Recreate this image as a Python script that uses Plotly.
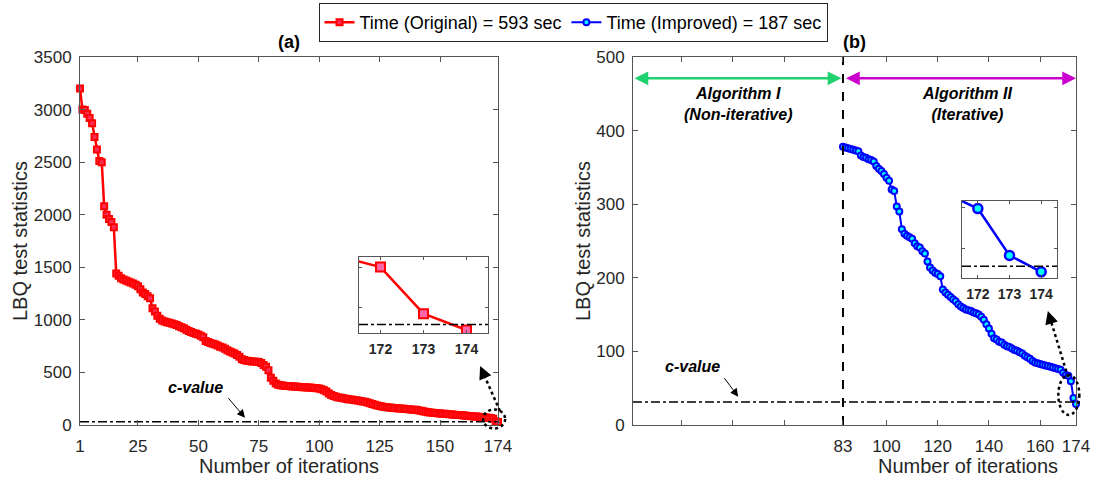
import plotly.graph_objects as go

# ---------------- data ----------------
iters_a = list(range(1, 175))
lbq_a = [3200, 3000, 2995, 2960, 2920, 2870, 2740, 2620, 2510, 2500,
         2080, 2000, 1960, 1930, 1880, 1440, 1420, 1395, 1385, 1375,
         1365, 1355, 1345, 1335, 1320, 1290, 1260, 1245, 1225, 1205,
         1110, 1080, 1040, 1010, 995, 985, 978, 972, 965, 958,
         950, 940, 930, 920, 905, 895, 885, 875, 868, 860,
         850, 835, 800, 790, 780, 772, 765, 755, 745, 738,
         725, 712, 700, 690, 680, 665, 650, 625, 618, 612,
         608, 605, 603, 601, 598, 590, 570, 555, 520, 450,
         420, 395, 383, 378, 375, 372, 370, 368, 366, 365,
         364, 362, 360, 358, 357, 356, 354, 352, 350, 346,
         340, 330, 318, 300, 285, 275, 268, 262, 258, 254,
         250, 246, 243, 240, 236, 232, 228, 224, 220, 215,
         208, 200, 192, 186, 180, 176, 172, 170, 167, 164,
         162, 160, 158, 156, 154, 152, 150, 148, 146, 144,
         140, 135, 130, 125, 121, 118, 116, 114, 112, 110,
         108, 106, 104, 102, 100, 98, 96, 94, 92, 90,
         88, 86, 84, 82, 80, 78, 76, 74, 71, 68,
         65.6, 60, 36.8, 28.7]

iters_b = list(range(83, 175))
lbq_b = [378, 377, 376, 375, 374, 373, 372, 366, 364, 363,
         361, 360, 358, 352, 348, 345, 341, 336, 332, 320,
         318, 297, 290, 266, 260, 257, 255, 253, 247, 243,
         241, 236, 233, 222, 214, 210, 207, 205, 202, 184,
         180, 177, 174, 171, 168, 164, 161, 159, 157, 156,
         155, 153, 152, 150, 147, 143, 137, 131, 124, 118,
         116, 113, 112, 109, 107, 106, 104, 102, 101, 99,
         97, 94, 92, 90, 87, 85, 84, 83, 82, 81,
         80, 79, 78, 77, 76, 75, 71, 68, 66.8, 59.5,
         36.7, 28.7]

assert len(lbq_a) == len(iters_a)
assert len(lbq_b) == len(iters_b)

c_value = 31.41
split_iter = 83

xticks_a = [1, 25, 50, 75, 100, 125, 150, 174]
yticks_a = [0, 500, 1000, 1500, 2000, 2500, 3000, 3500]
xticks_b = [20, 40, 60, 83, 100, 120, 140, 160, 174]
xticklabels_b = ["", "", "", "83", "100", "120", "140", "160", "174"]
yticks_b = [0, 100, 200, 300, 400, 500]
inset_xticks = [172, 173, 174]
inset_yticks = [40, 60]

legend_a = "Time (Original) = 593 sec"
legend_b = "Time (Improved) = 187 sec"

# ---------------- layout geometry ----------------
W, H = 1093, 477
FONT = "Liberation Sans, Arial, Helvetica, sans-serif"
AX = "#555555"
TXT = "#262626"

dom_ax = [80 / W, 498 / W]
dom_bx = [633 / W, 1076 / W]
dom_y = [1 - 425 / H, 1 - 57 / H]
dom_iax = [359 / W, 488 / W]
dom_iay = [1 - 333 / H, 1 - 257 / H]
dom_ibx = [962 / W, 1057 / W]
dom_iby = [1 - 278 / H, 1 - 201 / H]

range_ax = [1, 174]
range_ay = [0, 3500]
range_bx = [1, 174]
range_by = [0, 500]
range_inx = [171.5, 174.5]
range_iay = [27.2, 65]
range_iby = [25.7, 63.2]


def to_paper(xv, yv, xd, xr, yd, yr):
    px = xd[0] + (xv - xr[0]) / (xr[1] - xr[0]) * (xd[1] - xd[0])
    py = yd[0] + (yv - yr[0]) / (yr[1] - yr[0]) * (yd[1] - yd[0])
    return px, py


def pa(xv, yv):
    return to_paper(xv, yv, dom_ax, range_ax, dom_y, range_ay)


def pb(xv, yv):
    return to_paper(xv, yv, dom_bx, range_bx, dom_y, range_by)


fig = go.Figure()

# main traces
fig.add_trace(go.Scatter(
    x=iters_a, y=lbq_a, mode="lines+markers", name=legend_a,
    line=dict(color="#ff0000", width=2.5),
    marker=dict(symbol="square", size=6, color="#ff2a55",
                line=dict(color="#ff0000", width=2)),
    xaxis="x", yaxis="y", cliponaxis=False))
fig.add_trace(go.Scatter(
    x=iters_b, y=lbq_b, mode="lines+markers", name=legend_b,
    line=dict(color="#0000ff", width=2),
    marker=dict(symbol="circle", size=6, color="#00ffff",
                line=dict(color="#0000ff", width=2)),
    xaxis="x2", yaxis="y2", cliponaxis=False))

# c-value lines
for xa, ya, xr in (("x", "y", range_ax), ("x2", "y2", range_bx)):
    fig.add_trace(go.Scatter(
        x=xr, y=[c_value, c_value], mode="lines", showlegend=False,
        line=dict(color="black", width=1.5, dash="dashdot"),
        xaxis=xa, yaxis=ya, hoverinfo="skip"))

# split line in (b)
fig.add_trace(go.Scatter(
    x=[split_iter, split_iter], y=range_by, mode="lines", showlegend=False,
    line=dict(color="black", width=2, dash="dash"),
    xaxis="x2", yaxis="y2", hoverinfo="skip"))

# insets
fig.add_trace(go.Scatter(
    x=iters_a[-4:], y=lbq_a[-4:], mode="lines+markers", showlegend=False,
    line=dict(color="#ff0000", width=2.5),
    marker=dict(symbol="square", size=9, color="#ff66aa",
                line=dict(color="#ff0000", width=2)),
    xaxis="x3", yaxis="y3"))
fig.add_trace(go.Scatter(
    x=range_inx, y=[c_value, c_value], mode="lines", showlegend=False,
    line=dict(color="black", width=1.5, dash="dashdot"),
    xaxis="x3", yaxis="y3", hoverinfo="skip"))
fig.add_trace(go.Scatter(
    x=iters_b[-4:], y=lbq_b[-4:], mode="lines+markers", showlegend=False,
    line=dict(color="#0000ff", width=2.5),
    marker=dict(symbol="circle", size=9, color="#00ffff",
                line=dict(color="#0000ff", width=2.5)),
    xaxis="x4", yaxis="y4"))
fig.add_trace(go.Scatter(
    x=range_inx, y=[c_value, c_value], mode="lines", showlegend=False,
    line=dict(color="black", width=1.5, dash="dashdot"),
    xaxis="x4", yaxis="y4", hoverinfo="skip"))

tickfont = dict(family=FONT, size=17, color=TXT)
common = dict(showline=True, linecolor=AX, linewidth=1, mirror="ticks",
              ticks="inside", ticklen=5, tickcolor=AX, showgrid=False,
              zeroline=False, tickfont=tickfont, automargin=False)
inset_common = dict(showline=True, linecolor=AX, linewidth=1, mirror="ticks",
                    ticks="inside", ticklen=3, tickcolor=AX, showgrid=False,
                    zeroline=False, automargin=False)

fig.update_layout(
    width=W, height=H,
    margin=dict(l=0, r=0, t=0, b=0, autoexpand=False),
    paper_bgcolor="white", plot_bgcolor="white",
    font=dict(family=FONT, color=TXT),
    xaxis=dict(domain=dom_ax, range=range_ax, anchor="y",
               tickvals=xticks_a, ticklabelstandoff=6, **common),
    yaxis=dict(domain=dom_y, range=range_ay, anchor="x",
               tickvals=yticks_a, ticklabelstandoff=4, **common),
    xaxis2=dict(domain=dom_bx, range=range_bx, anchor="y2",
                tickvals=xticks_b, ticktext=xticklabels_b,
                ticklabelstandoff=6, **common),
    yaxis2=dict(domain=dom_y, range=range_by, anchor="x2",
                tickvals=yticks_b, ticklabelstandoff=4, **common),
    xaxis3=dict(domain=dom_iax, range=range_inx, anchor="y3",
                tickvals=inset_xticks,
                tickfont=dict(family=FONT, size=14, color=TXT, weight="bold"),
                ticklabelstandoff=3, **inset_common),
    yaxis3=dict(domain=dom_iay, range=range_iay, anchor="x3",
                tickvals=inset_yticks, showticklabels=False, **inset_common),
    xaxis4=dict(domain=dom_ibx, range=range_inx, anchor="y4",
                tickvals=inset_xticks,
                tickfont=dict(family=FONT, size=14, color=TXT, weight="bold"),
                ticklabelstandoff=3, **inset_common),
    yaxis4=dict(domain=dom_iby, range=range_iby, anchor="x4",
                tickvals=inset_yticks, showticklabels=False, **inset_common),
    legend=dict(orientation="h", x=573 / W, xanchor="center",
                y=1 - 3 / H, yanchor="top",
                xref="container", yref="container",
                bgcolor="white", bordercolor=TXT, borderwidth=1,
                font=dict(family=FONT, size=18, color="black"),
                tracegroupgap=0, itemwidth=30),
    showlegend=True,
)

ann = []
center = dict(xanchor="center", yanchor="middle")
# panel titles
ann.append(dict(text="<b>(a)</b>", x=sum(dom_ax) / 2, y=1 - 42 / H,
                xref="paper", yref="paper", showarrow=False,
                font=dict(family=FONT, size=18, color="black"), **center))
ann.append(dict(text="<b>(b)</b>", x=sum(dom_bx) / 2, y=1 - 42 / H,
                xref="paper", yref="paper", showarrow=False,
                font=dict(family=FONT, size=18, color="black"), **center))
# axis titles
for xp in (20 / W, 583 / W):
    ann.append(dict(text="LBQ test statistics", x=xp, y=sum(dom_y) / 2,
                    xref="paper", yref="paper", showarrow=False, textangle=-90,
                    font=dict(family=FONT, size=20, color=TXT), **center))
for xp in (289 / W, 968 / W):
    ann.append(dict(text="Number of iterations", x=xp, y=1 - 466 / H,
                    xref="paper", yref="paper", showarrow=False,
                    font=dict(family=FONT, size=20, color=TXT), **center))
# c-value labels and arrows
bi = dict(family=FONT, size=16, color="black")
ann.append(dict(text="<b><i>c-value</i></b>", x=48.6, y=352, xref="x", yref="y",
                showarrow=False, font=bi, **center))
ann.append(dict(text="", x=69.3, y=70, xref="x", yref="y", showarrow=True,
                ax=-18, ay=-21, arrowhead=2, arrowsize=1.6, arrowwidth=1,
                arrowcolor="black"))
ann.append(dict(text="<b><i>c-value</i></b>", x=24.4, y=79, xref="x2", yref="y2",
                showarrow=False, font=bi, **center))
ann.append(dict(text="", x=42.1, y=38.5, xref="x2", yref="y2", showarrow=True,
                ax=-15, ay=-20, arrowhead=2, arrowsize=1.6, arrowwidth=1,
                arrowcolor="black"))
# algorithm regions
ann.append(dict(text="", x=split_iter - 0.6, y=471, ax=range_bx[0], ay=471,
                xref="x2", yref="y2", axref="x2", ayref="y2", showarrow=True,
                arrowside="end+start", arrowhead=2, startarrowhead=2,
                arrowsize=1.1, startarrowsize=1.1, arrowwidth=2.5,
                arrowcolor="#1fd16f"))
ann.append(dict(text="", x=range_bx[1], y=471, ax=split_iter + 0.6, ay=471,
                xref="x2", yref="y2", axref="x2", ayref="y2", showarrow=True,
                arrowside="end+start", arrowhead=2, startarrowhead=2,
                arrowsize=1.1, startarrowsize=1.1, arrowwidth=2.5,
                arrowcolor="#cc00cc"))
ann.append(dict(text="<b><i>Algorithm I</i></b><br><b><i>(Non-iterative)</i></b>",
                x=42, y=436, xref="x2", yref="y2", showarrow=False, font=bi,
                **center))
ann.append(dict(text="<b><i>Algorithm II</i></b><br><b><i>(Iterative)</i></b>",
                x=131.3, y=436, xref="x2", yref="y2", showarrow=False, font=bi,
                **center))

# dotted ellipses and dotted pointer arrows
shapes = []
for conv, cx, cy, hw, hh, tail, head in (
        (pa, 172.4, 57, 11, 9.5, (174.8, 133), (166.6, 561)),
        (pb, 171.2, 40.8, 10.5, 20, (170.9, 65), (163, 155))):
    px, py = conv(cx, cy)
    shapes.append(dict(type="circle", xref="paper", yref="paper",
                       x0=px - hw / W, x1=px + hw / W,
                       y0=py - hh / H, y1=py + hh / H,
                       line=dict(color="black", width=2.5, dash="dot")))
    tx, ty = conv(*tail)
    hx, hy = conv(*head)
    dx = (tx - hx) * W
    dy = -(ty - hy) * H
    L = (dx ** 2 + dy ** 2) ** 0.5
    ux, uy = dx / L, dy / L
    shapes.append(dict(type="line", xref="paper", yref="paper",
                       x0=tx, y0=ty, x1=hx + ux * 8 / W, y1=hy - uy * 8 / H,
                       line=dict(color="black", width=2.5, dash="dot")))
    ann.append(dict(text="", x=hx, y=hy, xref="paper", yref="paper",
                    showarrow=True, ax=ux * 12, ay=uy * 12, arrowhead=2,
                    arrowsize=1.3, arrowwidth=2, arrowcolor="black"))

fig.update_layout(annotations=ann, shapes=shapes)
fig.write_html("out.html")
